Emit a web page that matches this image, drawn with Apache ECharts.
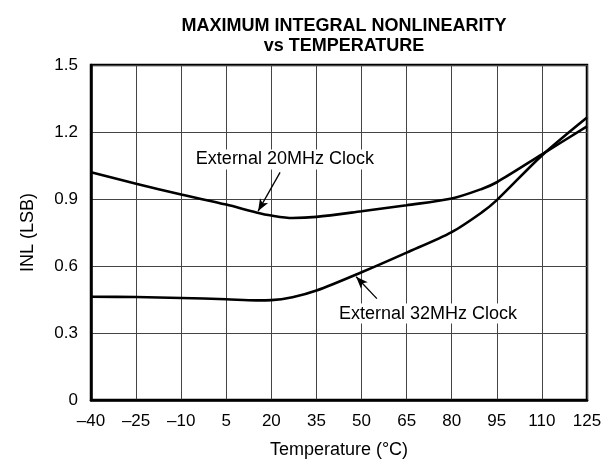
<!DOCTYPE html>
<html>
<head>
<meta charset="utf-8">
<script src="https://cdn.jsdelivr.net/npm/echarts@6/dist/echarts.min.js"></script>
<style>html,body{margin:0;padding:0;background:#fff;}#c{width:615px;height:464px;}</style>
</head>
<body>
<div id="c"></div>
<script>
const temps20 = [-40, -25, -10, 5, 15, 20, 27, 35, 50, 65, 80, 90, 95, 110, 125];
const inl20   = [1.02, 0.968, 0.92, 0.875, 0.84, 0.826, 0.815, 0.82, 0.845, 0.872, 0.902, 0.945, 0.975, 1.1, 1.225];
const temps32 = [-40, -25, -10, 5, 15, 20, 27, 35, 50, 65, 80, 90, 95, 110, 125];
const inl32   = [0.462, 0.461, 0.457, 0.451, 0.446, 0.447, 0.46, 0.49, 0.572, 0.66, 0.752, 0.84, 0.895, 1.095, 1.265];
const label20 = { text: 'External 20MHz Clock', at: [24.5, 1.077], arrowFrom: [22.9, 1.019], arrowTo: [15.6, 0.846] };
const label32 = { text: 'External 32MHz Clock', at: [72.1, 0.387], arrowFrom: [55.1, 0.454], arrowTo: [48.2, 0.552] };

const FONT = 'Liberation Sans, Arial, Helvetica, sans-serif';
const chart = echarts.init(document.getElementById('c'), null, { renderer: 'canvas' });

function zip(xs, ys) { return xs.map((x, i) => [x, ys[i]]); }
function arrowLine(a) {
  return {
    silent: true, animation: false,
    symbol: ['none', 'arrow'], symbolSize: [7, 12],
    lineStyle: { color: '#000', width: 1.3, type: 'solid' },
    label: { show: false },
    data: [[{ coord: a.arrowFrom }, { coord: a.arrowTo }]]
  };
}

chart.setOption({
  animation: false,
  backgroundColor: '#fff',
  title: {
    text: 'MAXIMUM INTEGRAL NONLINEARITY\nvs TEMPERATURE',
    left: 339, top: 11, textAlign: 'center',
    textStyle: { fontFamily: FONT, fontSize: 18, fontWeight: 'bold', color: '#000', lineHeight: 20 }
  },
  grid: { left: 91, right: 28, top: 65, bottom: 62, show: true, borderColor: '#000', borderWidth: 2.5, backgroundColor: 'transparent' },
  xAxis: {
    type: 'value', min: -40, max: 125, interval: 15,
    name: 'Temperature (°C)', nameLocation: 'middle', nameGap: 41,
    nameTextStyle: { fontFamily: FONT, fontSize: 18, color: '#000' },
    axisLine: { show: true, onZero: false, lineStyle: { color: '#000', width: 2.5 } },
    axisTick: { show: false },
    axisLabel: { margin: 13, fontFamily: FONT, fontSize: 17, color: '#000', formatter: v => String(v).replace('-', '\u2013') },
    splitLine: { show: true, lineStyle: { color: '#444', width: 1 } }
  },
  yAxis: {
    type: 'value', min: 0, max: 1.5, interval: 0.3,
    name: 'INL (LSB)', nameLocation: 'middle', nameGap: 54,
    nameTextStyle: { fontFamily: FONT, fontSize: 18, color: '#000' },
    axisLine: { show: true, onZero: false, lineStyle: { color: '#000', width: 2.5 } },
    axisTick: { show: false },
    axisLabel: { margin: 13, fontFamily: FONT, fontSize: 17, color: '#000', formatter: v => v === 0 ? '0' : v.toFixed(1) },
    splitLine: { show: true, lineStyle: { color: '#444', width: 1 } }
  },
  series: [
    { name: '20MHz', type: 'line', data: zip(temps20, inl20), smooth: 0.3, showSymbol: false, symbol: 'none',
      lineStyle: { color: '#000', width: 2.6 }, z: 3, markLine: arrowLine(label20) },
    { name: '32MHz', type: 'line', data: zip(temps32, inl32), smooth: 0.3, showSymbol: false, symbol: 'none',
      lineStyle: { color: '#000', width: 2.6 }, z: 3, markLine: arrowLine(label32) }
  ]
});

function placeLabels() {
  const els = [label20, label32].map(a => {
    const p = chart.convertToPixel({ gridIndex: 0 }, a.at);
    return {
      type: 'text', x: p[0], y: p[1], z: 10,
      style: { text: a.text, fontFamily: FONT, fontSize: 18, fill: '#000', align: 'center', verticalAlign: 'middle',
               backgroundColor: '#fff', padding: [1, 3] }
    };
  });
  chart.setOption({ graphic: els });
}
placeLabels();
</script>
</body>
</html>
